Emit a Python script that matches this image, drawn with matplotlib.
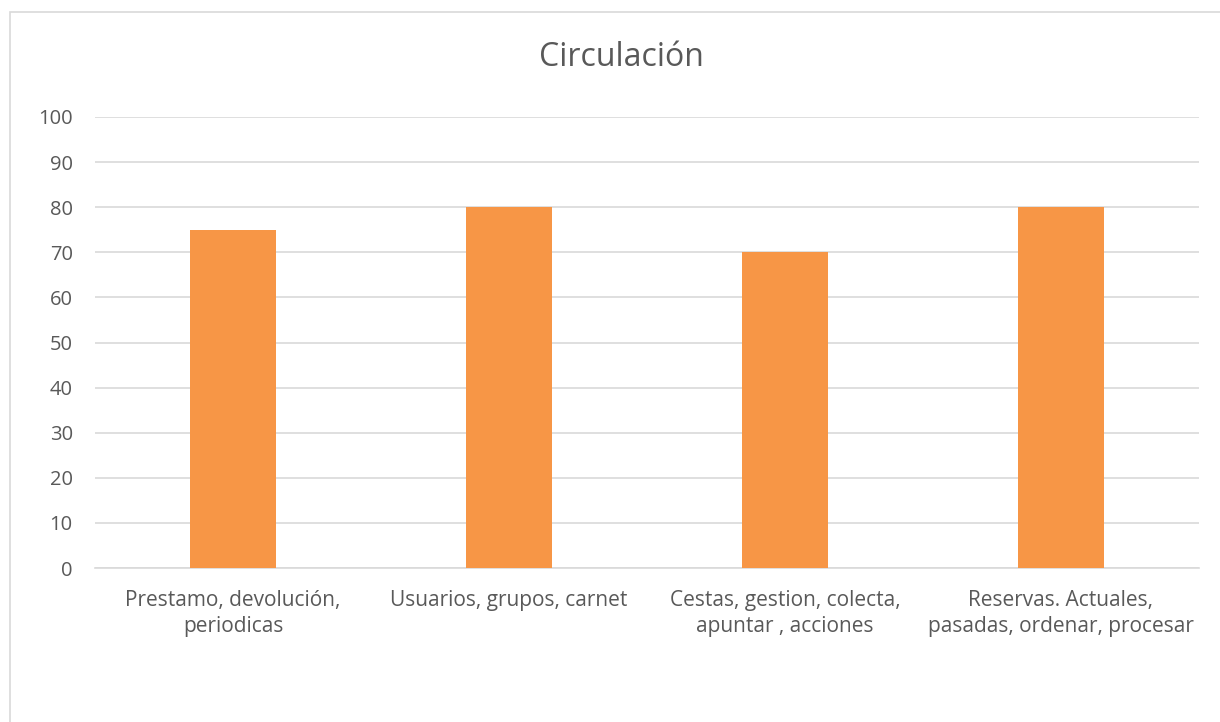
import matplotlib
matplotlib.use("Agg")
import matplotlib.pyplot as plt
from matplotlib.patches import Rectangle

# data
categorias = ["Prestamo, devolución,\nperiodicas",
              "Usuarios, grupos, carnet",
              "Cestas, gestion, colecta,\napuntar , acciones",
              "Reservas. Actuales,\npasadas, ordenar, procesar"]
valores = [75, 80, 70, 80]
ticks_y = [0, 10, 20, 30, 40, 50, 60, 70, 80, 90, 100]

plt.rcParams['font.family'] = ['Open Sans', 'DejaVu Sans']
gris = '#595959'

fig = plt.figure(figsize=(12.2, 7.22), dpi=100)
ax = fig.add_axes([95/1220, 1-568/722, (1199-95)/1220, (568-117)/722])

# chart border (extends past right and bottom edges in the reference)
fig.patches.append(Rectangle((10/1220, -0.1), 1.2, 1-12/722+0.1, transform=fig.transFigure,
                             fill=False, edgecolor='#D9D9D9', linewidth=1.2))

x = range(len(categorias))
ax.bar(x, valores, width=0.31, color='#F79646', zorder=3)

ax.set_xlim(-0.5, 3.5)
ax.set_ylim(0, 100)
ax.set_yticks(ticks_y)
ax.set_xticks(list(x))
ax.set_xticklabels(categorias, fontsize=15, color=gris, linespacing=1.3)
ax.tick_params(axis='y', labelsize=14.5, labelcolor=gris, length=0, pad=16)
ax.tick_params(axis='x', length=0, pad=16)
ax.grid(axis='y', color='#D9D9D9', linewidth=1.2, zorder=0)
for s in ['top', 'right', 'left']:
    ax.spines[s].set_visible(False)
ax.spines['bottom'].set_color('#D9D9D9')
ax.spines['bottom'].set_linewidth(1.2)

fig.text(621/1220, 1-58/722, "Circulación", ha='center', va='center', fontsize=23, color=gris)

fig.savefig("out.png", dpi=100, facecolor='white')
